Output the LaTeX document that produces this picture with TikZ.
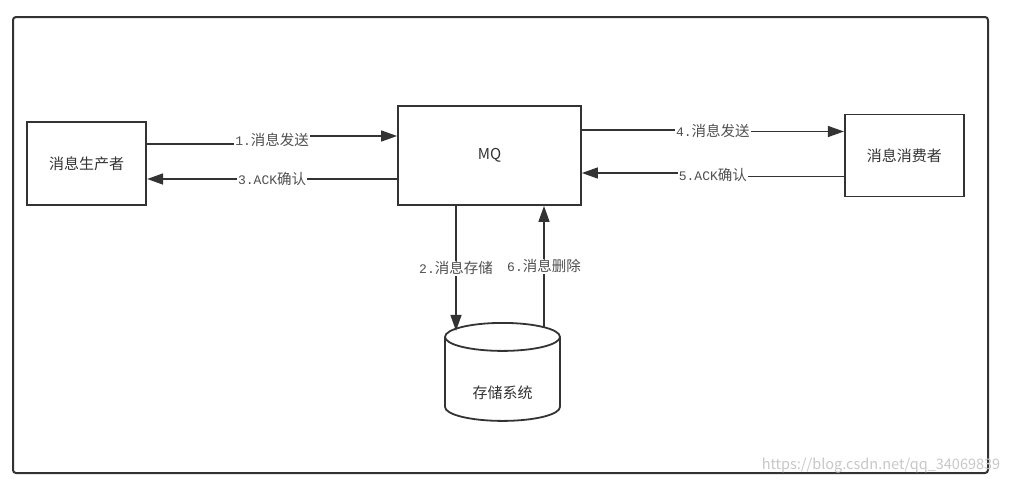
\documentclass[tikz,border=0pt]{standalone}
\usepackage{fontspec}
\setmainfont{Noto Sans CJK SC}
\setmonofont[Scale=0.9]{Liberation Mono}
\usetikzlibrary{arrows.meta,positioning,calc}

\definecolor{linegray}{HTML}{333333}
\definecolor{textgray}{HTML}{505050}

\begin{document}
\begin{tikzpicture}[x=1pt,y=-1pt,>={Triangle[length=16pt,width=11pt]}]
	\tikzset{box/.style={draw=linegray,line width=1.8pt,fill=white,text=linegray,font=\fontsize{15}{17}\selectfont},
		flow/.style={->,draw=linegray,line width=1.5pt},
		lbl/.style={fill=white,inner sep=1pt,text=textgray,font=\fontsize{14.5}{17}\selectfont}}

	\useasboundingbox (0,0) rectangle (1013,491);
	\draw[linegray,line width=2pt,rounded corners=3pt] (13,17) rectangle (988,473);

	\node[box,minimum width=183pt,minimum height=99pt] (mq) at (489.5,155.5) {MQ};
	\node[box,minimum width=119pt,minimum height=83pt] (producer) [left=250pt of mq,yshift=-8pt] {消息生产者};
	\node[box,minimum width=119pt,minimum height=82pt] (consumer) [right=262pt of mq] {消息消费者};
	\node[minimum width=115pt,minimum height=98pt,inner sep=0pt,outer sep=0pt] (storage) [below=117pt of mq,xshift=13pt] {};
	% cylinder
	\draw[linegray,line width=1.8pt,fill=white] ([yshift=-14pt]storage.north west) -- ([yshift=14pt]storage.south west)
		arc[start angle=180,end angle=360,x radius=57.5pt,y radius=14pt] -- ([yshift=-14pt]storage.north east)
		arc[start angle=0,end angle=180,x radius=57.5pt,y radius=14pt] -- cycle;
	\draw[linegray,line width=1.8pt] ([yshift=-14pt]storage.north west)
		arc[start angle=180,end angle=360,x radius=57.5pt,y radius=14pt];
	\node[text=linegray,font=\fontsize{15}{17}\selectfont] (storagetext) at ([yshift=-21pt]storage.center) {存储系统};

	% producer <-> MQ
	\coordinate (s1) at ([yshift=19.5pt]producer.east);
	\coordinate (e1) at ([yshift=19.5pt]mq.west);
	\draw[flow] (s1) -| ($(s1)!.5!(e1)$) node[lbl] {\texttt{1.}消息发送} |- (e1);
	\coordinate (s3) at ([yshift=-23.5pt]mq.west);
	\coordinate (e3) at ([yshift=-15.5pt]producer.east);
	\draw[flow] (s3) -- node[lbl] {\texttt{3.ACK}确认} (e3);

	% MQ <-> consumer
	\coordinate (s4) at ([yshift=25.5pt]mq.east);
	\coordinate (e4) at ([yshift=24pt]consumer.west);
	\draw[flow] (s4) -| ($(s4)!.5!(e4)$) node[lbl] {\texttt{4.}消息发送} |- (e4);
	\coordinate (s5) at ([yshift=-21pt]consumer.west);
	\coordinate (e5) at ([yshift=-17.5pt]mq.east);
	\draw[flow] (s5) -| ($(s5)!.5!(e5)$) node[lbl] {\texttt{5.ACK}确认} |- (e5);

	% MQ <-> storage
	\coordinate (s2) at ([xshift=-33.5pt]mq.south);
	\coordinate (e2) at ($(s2 |- storage.north)+(0,-8pt)$);
	\draw[flow] (s2) -- node[lbl] {\texttt{2.}消息存储} (e2);
	\coordinate (e6) at ([xshift=54.5pt]mq.south);
	\coordinate (s6) at ($(e6 |- storage.north)+(0,-4pt)$);
	\draw[flow] (s6) -- node[lbl] {\texttt{6.}消息删除} (e6);

	\node[text=black!22,font=\fontsize{14.5}{16}\selectfont] (watermark) at (881,466) {https://blog.csdn.net/qq\_34069839};
\end{tikzpicture}
\end{document}
